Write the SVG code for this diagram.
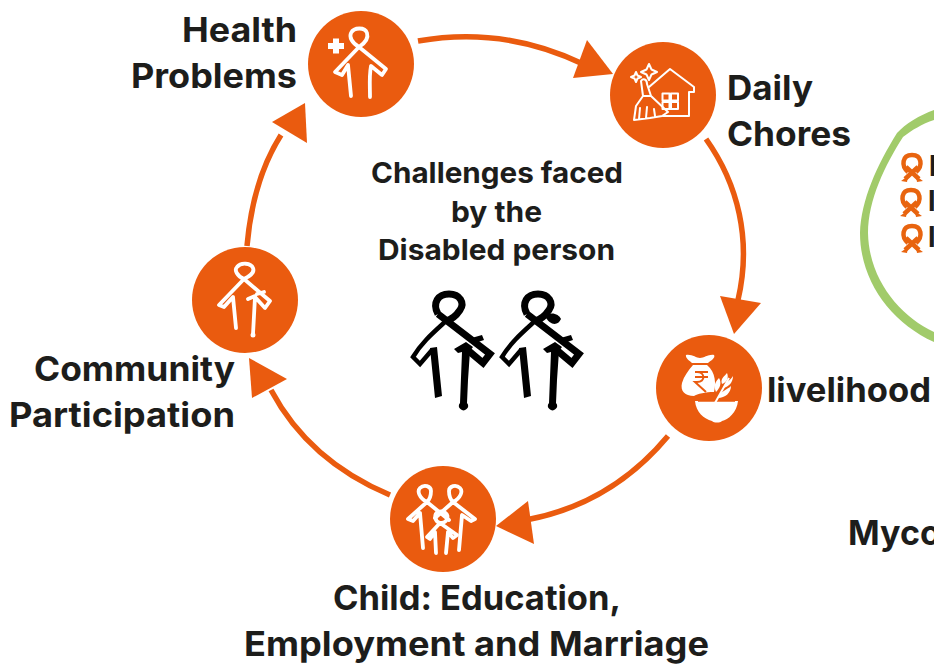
<svg xmlns="http://www.w3.org/2000/svg" width="934" height="666" viewBox="0 0 934 666">
<style>
text{font-family:"Inter","Liberation Sans",sans-serif;font-weight:700;fill:#1d1d1b}
.l{font-size:34px}
.c{font-size:29px}
.n{fill:#ea5b0f}
.w{fill:none;stroke:#fff;stroke-width:3.800;stroke-linecap:round;stroke-linejoin:round}
.t{fill:none;stroke:#fff;stroke-width:2;stroke-linejoin:round;stroke-linecap:round}
.f{fill:#fff}
.a{fill:none;stroke:#ea5b0f;stroke-width:5.500}
.h{fill:#ea5b0f}
.b{fill:none;stroke:#000;stroke-linejoin:miter}
.r{fill:none;stroke:#e8640f;stroke-width:4.500}
</style>
<defs>
<g id="rib"><path class="r" d="M-4 5C-11-1-10-12 0-12C10-12 11-1 4 5M6 0L-7 12M-6 0L7 12"/><path d="M-11 14L-4 9-5 15ZM11 14L4 9 5 15Z" fill="#e8640f"/></g>
<g id="fig">
<path class="b" stroke-width="4.500" d="M446 321C434 332 422 342 413 357L420 364 432 350"/>
<path class="b" stroke-width="7" d="M438 314C432 303 438 294 449 294C460 294 465 303 460 310C456 316 450 320 446 321M438 314L490 354 483 363 464 347"/>
<path d="M430 348L437 347 442 396 435 398ZM454 349L466 342 473 347 470 351 468 380 467 403A4.500 4.500 0 1 1 460 403L462 352 458 353ZM468 339L482 335 484 340 472 344Z"/>
</g>
</defs>
<g id="connectors">
<path class="a" d="M418 41C480 30 535 41 583 64"/><path class="h" d="M613 74L573 78 587 40Z"/>
<path class="a" d="M706 139C738 184 752 240 738 300"/><path class="h" d="M734 334L720 296 761 303Z"/>
<path class="a" d="M668 436C628 484 580 510 526 520"/><path class="h" d="M496 526L528 501 534 544Z"/>
<path class="a" d="M390 495C335 472 295 435 271 390"/><path class="h" d="M249 358L287 379 252 398Z"/>
<path class="a" d="M247 246C251 200 262 165 281 135"/><path class="h" d="M305 103L307 143 272 122Z"/>
</g>
<g id="health"><circle class="n" cx="361" cy="64" r="53"/>
<path class="w" d="M359 47C352 43 349 37 351 33C354 27 365 27 367 33C369 39 365 43 359 47L335 72 342 75 348 65 351 96M359 47L386 69 382 75 371 66C369 76 370 87 370 97"/>
<path class="f" d="M328 43h5v-4.500h6v4.500h5v6h-5v4.500h-6v-4.500h-5Z"/></g>
<g id="chores"><circle class="n" cx="663" cy="95" r="53"/>
<path class="t" d="M649 87L670 69 694 87V92H689V116H663"/>
<path class="t" stroke-width="1.600" d="M662.500 93.500h7v7h-7ZM671 93.500h7v7h-7ZM662.500 102h7v7h-7ZM671 102h7v7h-7Z"/>
<path class="t" d="M641 81C643 78 647 79 647 84L651 96 668 112 662 116 650 118 634 120 636 106 643 96ZM643 96L651 96M640 108L639 119M647 107L646 118M654 109L655 116"/>
<path class="t" stroke-width="1.500" d="M649 64l2.500 5.500 5.500 2.500-5.500 2.500-2.500 5.500-2.500-5.500-5.500-2.500 5.500-2.500ZM636 72l1.500 3.500 3.500 1.500-3.500 1.500-1.500 3.500-1.500-3.500-3.500-1.500 3.500-1.500Z"/>
</g>
<g id="livelihood"><circle class="n" cx="709" cy="388" r="53"/>
<path class="f" d="M686 355C692 354 696 358 700 358 704 358 709 354 714 355 716 358 710 361 708 363H692C690 361 685 358 686 355ZM693 365H707C716 372 716 385 714 392 706 392 697 394 694 396 685 396 680 391 682 383 684 376 688 371 693 365Z"/>
<path d="M695 372h13M695 377h13M697 372c8 0 9 10 0 10h-2l11 10" fill="none" stroke="#ea5b0f" stroke-width="2"/>
<path class="f" d="M695 401H738C737 412 728 420 722 421 720 423 714 423 712 421 704 419 696 412 695 401Z"/>
<path d="M698 401H735" stroke="#ea5b0f" stroke-width="1.500"/>
<path d="M715 403L729 378" stroke="#fff" stroke-width="2" fill="none"/>
<path class="f" d="M716 392C713 385 716 381 719 378 722 383 720 388 716 392ZM722 384C720 378 725 376 727 373 729 378 727 382 722 384ZM718 398C720 391 727 390 731 386 731 393 725 398 718 398ZM723 388C725 382 730 381 733 376 733 382 729 387 723 388Z"/>
</g>
<g id="child"><circle class="n" cx="443" cy="519" r="53"/>
<path class="w" d="M427 502C419 498 417 491 420 488C424 484 431 486 431 491C431 496 429 500 427 502L408 519 413 521 420 513 423 548M427 502L449 520"/>
<path class="w" d="M453 502C461 498 463 491 460 488C456 484 449 486 449 491C449 496 451 500 453 502L475 519 471 521 462 515 459 550M453 502L435 518"/>
<path class="w" stroke-width="3" d="M440 523C434 521 434 514 438 512C444 510 449 514 447 519C446 522 443 523 440 523L427 537 430 539 435 532 436 553M440 523L457 535 453 538 448 532 446 553"/></g>
<g id="community"><circle class="n" cx="245" cy="300" r="53"/>
<path class="w" d="M244 279C237 276 234 270 237 267C241 262 251 263 253 268C255 273 250 276 244 279L219 305 224 307 233 297 236 328M244 279L270 301 265 308 255 297 253 334M248 299L255 296M257 294L264 292"/>
<circle class="f" cx="253" cy="335" r="2.500"/></g>
<g id="centre">
<text class="c" x="371" y="183" textLength="252" lengthAdjust="spacingAndGlyphs">Challenges faced</text>
<text class="c" x="451" y="222" textLength="91" lengthAdjust="spacingAndGlyphs">by the</text>
<text class="c" x="378" y="260" textLength="237" lengthAdjust="spacingAndGlyphs">Disabled person</text>
<g id="person1"><use href="#fig"/></g>
<g id="person2"><use href="#fig" x="89"/><path d="M545 316C551 311 559 314 561 319 558 326 550 326 545 316Z"/></g>
</g>
<g id="labels">
<text class="l" x="182" y="42" textLength="115" lengthAdjust="spacingAndGlyphs">Health</text>
<text class="l" x="131" y="88" textLength="166" lengthAdjust="spacingAndGlyphs">Problems</text>
<text class="l" x="727" y="100" textLength="86" lengthAdjust="spacingAndGlyphs">Daily</text>
<text class="l" x="727" y="146" textLength="124" lengthAdjust="spacingAndGlyphs">Chores</text>
<text class="l" x="767" y="402" textLength="164" lengthAdjust="spacingAndGlyphs">livelihood</text>
<text class="l" x="34" y="381" textLength="201" lengthAdjust="spacingAndGlyphs">Community</text>
<text class="l" x="9" y="427" textLength="226" lengthAdjust="spacingAndGlyphs">Participation</text>
<text class="l" x="333" y="610" textLength="288" lengthAdjust="spacingAndGlyphs">Child: Education,</text>
<text class="l" x="244" y="656" textLength="465" lengthAdjust="spacingAndGlyphs">Employment and Marriage</text>
</g>
<g id="right">
<path d="M934 110C920 115 905 124 897 133C877 165 861 200 860 233C860 280 890 322 934 342V332C900 316 869 280 868 233C868 200 885 165 903 137C912 130 922 124 934 120Z" fill="#a1cb6a"/>
<use href="#rib" x="912" y="167"/><use href="#rib" x="911" y="202"/><use href="#rib" x="912" y="238"/>
<text class="l" x="929" y="176" style="font-size:28px">l</text>
<text class="l" x="928" y="211" style="font-size:28px">l</text>
<text class="l" x="928" y="247" style="font-size:28px">l</text>
<text class="l" x="848" y="545">Myco</text>
</g>
</svg>
